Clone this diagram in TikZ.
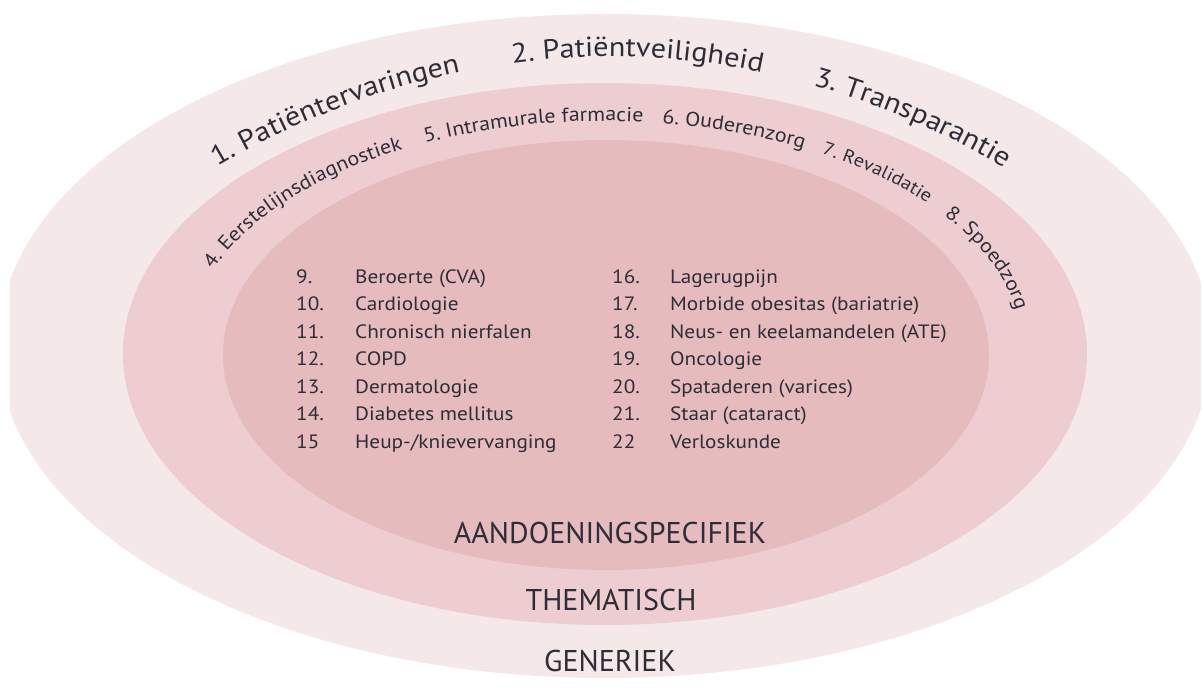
\documentclass[tikz,border=0pt]{standalone}
\usepackage{fontspec}
\setmainfont{PT Sans}
\newfontfamily\ringfont{PT Sans}[FakeStretch=1.1]
\usetikzlibrary{calc,decorations.text}
\definecolor{generiek}{HTML}{F5E8E9}
\definecolor{thematisch}{HTML}{EECDD0}
\definecolor{specifiek}{HTML}{E6BBBE}
\definecolor{ink}{HTML}{2D2D38}
\tikzset{
    every node/.style={text=ink, inner sep=0pt, anchor=base west,
    	font=\ringfont\fontsize{19.3}{21}\selectfont}
}
\tikzset{
    level/.style={anchor=base, font=\fontsize{30}{32}\selectfont}
}
\tikzset{
	arc text/.style 2 args={decorate, decoration={text along path,
	text color=ink, text align=left, text={|\ringfont\fontsize{#1}{#1}\selectfont|#2}}}
}

\begin{document}
\begin{tikzpicture}[x=1pt,y=1pt]
  \useasboundingbox (0,0) rectangle (1203,688);
  \begin{scope}
    \clip (10,0) rectangle (1201,688);
    \fill [generiek] (605,342) ellipse [x radius=607, y radius=332];
  \end{scope}
  \fill [thematisch] (605,334) ellipse [x radius=482, y radius=271];
  \fill [specifiek] (606,333) ellipse [x radius=383, y radius=215];

  \coordinate (co) at (610,-742.5);
  \coordinate (ci) at (605,343);

  \path [arc text={27.5}{1. Patiëntervaringen}] ($(co)+(113.1:1000 and 1374)$)
    arc [start angle=113.1, end angle=90, x radius=1000, y radius=1374];
  \path [arc text={27.5}{2. Patiëntveiligheid}] ($(co)+(95.6:1000 and 1374)$)
    arc [start angle=95.6, end angle=72, x radius=1000, y radius=1374];
  \path [arc text={27.5}{3. Transparantie}] ($(co)+(78.3:1000 and 1374)$)
    arc [start angle=78.3, end angle=55, x radius=1000, y radius=1374];

  \path [arc text={20}{4. Eerstelijnsdiagnostiek}] ($(ci)+(160.4:416 and 224)$)
    arc [start angle=160.4, end angle=105, x radius=416, y radius=224];
  \path [arc text={20}{5. Intramurale farmacie}] ($(ci)+(115.6:416 and 224)$)
    arc [start angle=115.6, end angle=70, x radius=416, y radius=224];
  \path [arc text={20}{6. Ouderenzorg}] ($(ci)+(82.1:416 and 224)$)
    arc [start angle=82.1, end angle=45, x radius=416, y radius=224];
  \path [arc text={18.3}{7. Revalidatie}] ($(ci)+(58.6:416 and 224)$)
    arc [start angle=58.6, end angle=25, x radius=416, y radius=224];
  \path [arc text={20}{8. Spoedzorg}] ($(ci)+(35.4:416 and 224)$)
    arc [start angle=35.4, end angle=-5, x radius=416, y radius=224];

  \node (n9) at (296,404.5) {9.};
  \node (t9) at (355,404.5) {Beroerte (CVA)};
  \node (n10) at (296,377) {10.};
  \node (t10) at (355,377) {Cardiologie};
  \node (n11) at (296,349.5) {11.};
  \node (t11) at (355,349.5) {Chronisch nierfalen};
  \node (n12) at (296,322) {12.};
  \node (t12) at (355,322) {COPD};
  \node (n13) at (296,294.5) {13.};
  \node (t13) at (355,294.5) {Dermatologie};
  \node (n14) at (296,267) {14.};
  \node (t14) at (355,267) {Diabetes mellitus};
  \node (n15) at (296,239.5) {15};
  \node (t15) at (355,239.5) {Heup-/knievervanging};

  \node (n16) at (612,404.5) {16.};
  \node (t16) at (670,404.5) {Lagerugpijn};
  \node (n17) at (612,377) {17.};
  \node (t17) at (670,377) {Morbide obesitas (bariatrie)};
  \node (n18) at (612,349.5) {18.};
  \node (t18) at (670,349.5) {Neus- en keelamandelen (ATE)};
  \node (n19) at (612,322) {19.};
  \node (t19) at (670,322) {Oncologie};
  \node (n20) at (612,294.5) {20.};
  \node (t20) at (670,294.5) {Spataderen (varices)};
  \node (n21) at (612,267) {21.};
  \node (t21) at (670,267) {Staar (cataract)};
  \node (n22) at (612,239.5) {22};
  \node (t22) at (670,239.5) {Verloskunde};

  \node (aand) [level] at (610,144) {AANDOENINGSPECIFIEK};
  \node (them) [level] at (611,77) {THEMATISCH};
  \node (gen) [level] at (610,16) {GENERIEK};
\end{tikzpicture}
\end{document}
